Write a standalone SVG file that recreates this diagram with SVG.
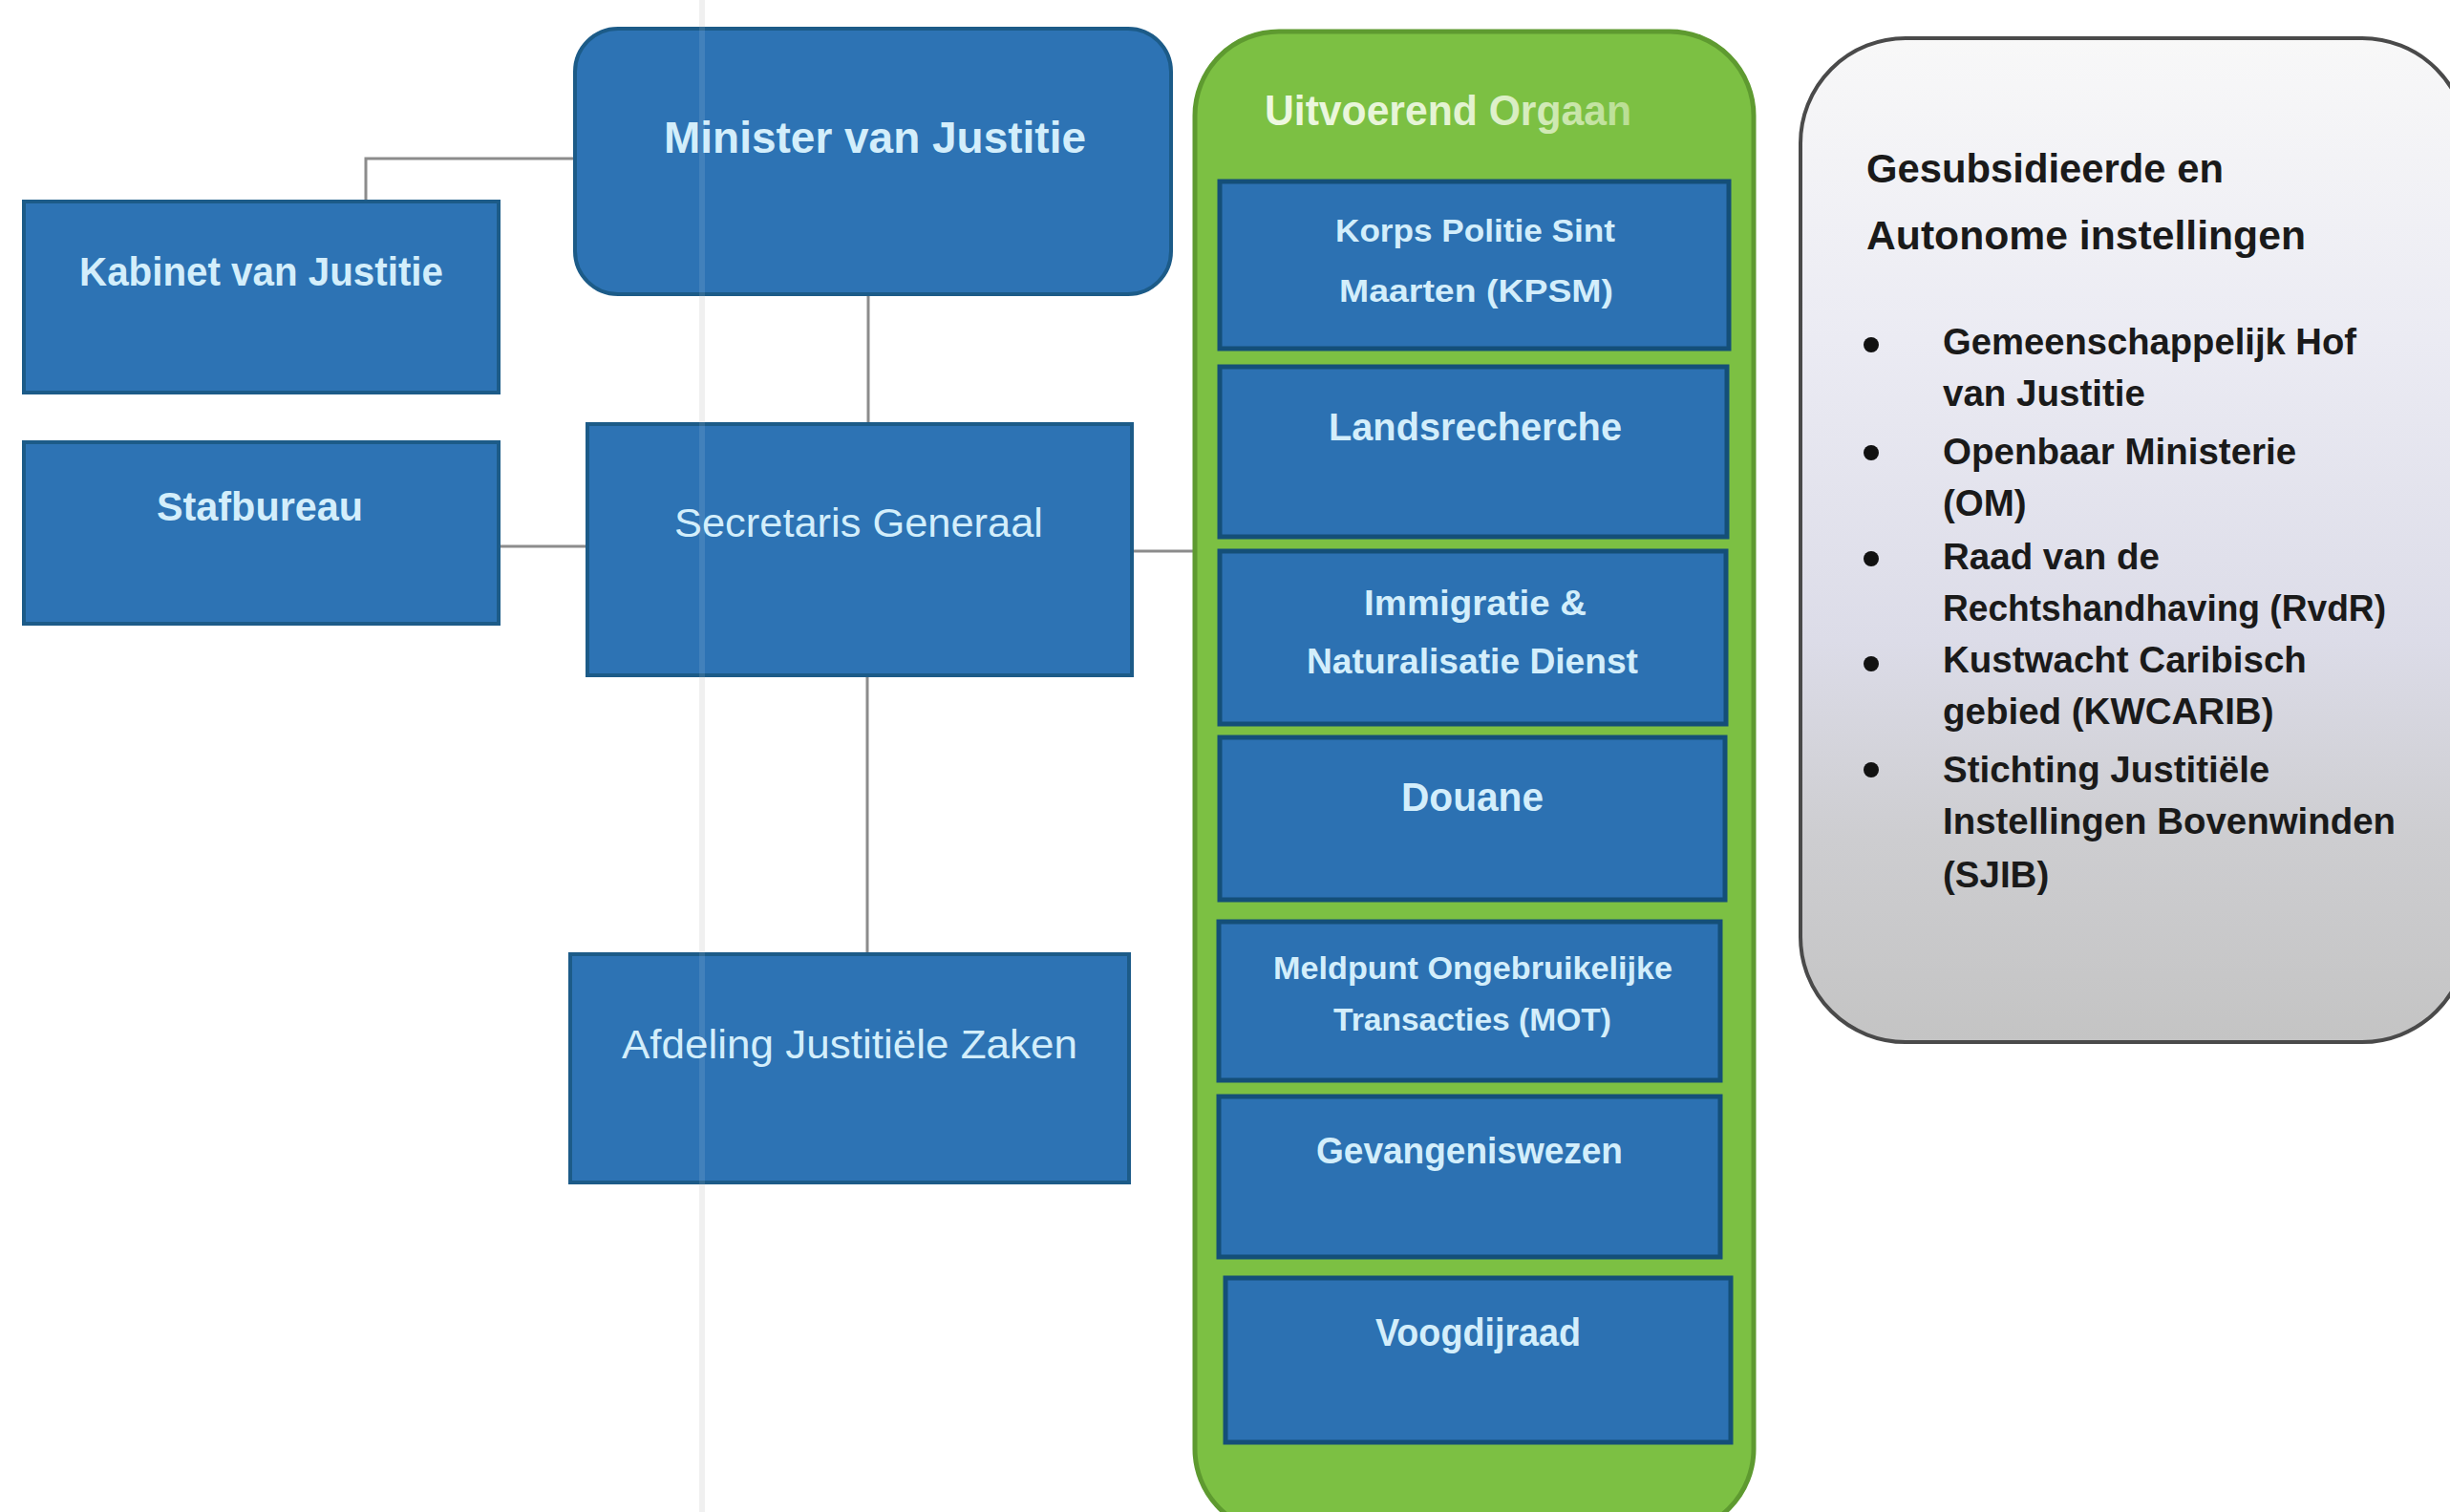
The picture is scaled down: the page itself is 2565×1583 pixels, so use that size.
<svg xmlns="http://www.w3.org/2000/svg" width="2565" height="1583" viewBox="0 0 2565 1583">
<defs>
<linearGradient id="grayFill" x1="0" y1="0" x2="0" y2="1">
<stop offset="0" stop-color="#f8f8f8"/>
<stop offset="0.3" stop-color="#ebebf3"/>
<stop offset="0.6" stop-color="#dcdce8"/>
<stop offset="0.8" stop-color="#cdcdd0"/>
<stop offset="1" stop-color="#c4c4c4"/>
</linearGradient>
<linearGradient id="titleFill" x1="0" y1="0" x2="1" y2="0">
<stop offset="0" stop-color="#eef8e2"/>
<stop offset="0.6" stop-color="#e2f2cf"/>
<stop offset="1" stop-color="#b9de92"/>
</linearGradient>
<style>
.box{fill:#2d73b4;stroke:#1c5b88;stroke-width:4}
.ibox{fill:#2c71b2;stroke:#144f78;stroke-width:5}
.bt{fill:#d3eefb;font-family:"Liberation Sans",Arial,sans-serif;font-weight:bold;text-anchor:start}
.btr{fill:#d3eefb;font-family:"Liberation Sans",Arial,sans-serif;font-weight:normal;text-anchor:start}
.gt{fill:#1a1a1a;font-family:"Liberation Sans",Arial,sans-serif;font-weight:bold}
.conn{stroke:#8c8c8c;stroke-width:3;fill:none}
</style>
</defs>
<rect x="0" y="0" width="2565" height="1583" fill="#ffffff"/>

<!-- faint scan fold line -->
<line x1="735" y1="0" x2="735" y2="1583" stroke="#efefef" stroke-width="6"/>

<g id="connectors">
<polyline class="conn" points="603,166 383,166 383,212"/>
<line class="conn" x1="909" y1="308" x2="909" y2="444"/>
<line class="conn" x1="522" y1="572" x2="615" y2="572"/>
<line class="conn" x1="908" y1="707" x2="908" y2="998"/>
<line class="conn" x1="1186" y1="577" x2="1253" y2="577"/>
</g>

<g id="minister">
<rect class="box" x="602" y="30" width="624" height="278" rx="45" ry="45"/>
<text class="bt" x="695" y="160" font-size="46" textLength="442" lengthAdjust="spacingAndGlyphs">Minister van Justitie</text>
</g>

<g id="kabinet">
<rect class="box" x="25" y="211" width="497" height="200"/>
<text class="bt" x="83" y="299" font-size="42" textLength="381" lengthAdjust="spacingAndGlyphs">Kabinet van Justitie</text>
</g>

<g id="stafbureau">
<rect class="box" x="25" y="463" width="497" height="190"/>
<text class="bt" x="164" y="545" font-size="42" textLength="216" lengthAdjust="spacingAndGlyphs">Stafbureau</text>
</g>

<g id="secretaris">
<rect class="box" x="615" y="444" width="570" height="263"/>
<text class="btr" x="706" y="562" font-size="43" textLength="386" lengthAdjust="spacingAndGlyphs">Secretaris Generaal</text>
</g>

<g id="afdeling">
<rect class="box" x="597" y="999" width="585" height="239"/>
<text class="btr" x="651" y="1108" font-size="43" textLength="477" lengthAdjust="spacingAndGlyphs">Afdeling Justitiële Zaken</text>
</g>

<!-- faint fold line over boxes -->
<line x1="735" y1="0" x2="735" y2="1583" stroke="#ffffff" stroke-opacity="0.1" stroke-width="6"/>

<g id="uitvoerend-orgaan">
<rect x="1251" y="33" width="585" height="1572" rx="88" ry="88" fill="#7cc043" stroke="#5e9a30" stroke-width="5"/>
<text x="1324" y="131" font-family="'Liberation Sans',Arial,sans-serif" font-weight="bold" font-size="44" fill="url(#titleFill)" textLength="384" lengthAdjust="spacingAndGlyphs">Uitvoerend Orgaan</text>
</g>

<g id="kpsm">
<rect class="ibox" x="1277" y="190" width="533" height="175"/>
<text class="bt" x="1398" y="253" font-size="34" textLength="293" lengthAdjust="spacingAndGlyphs">Korps Politie Sint</text>
<text class="bt" x="1402" y="316" font-size="34" textLength="287" lengthAdjust="spacingAndGlyphs">Maarten (KPSM)</text>
</g>

<g id="landsrecherche">
<rect class="ibox" x="1277" y="384" width="531" height="178"/>
<text class="bt" x="1391" y="461" font-size="40" textLength="307" lengthAdjust="spacingAndGlyphs">Landsrecherche</text>
</g>

<g id="ind">
<rect class="ibox" x="1277" y="577" width="530" height="181"/>
<text class="bt" x="1428" y="644" font-size="36" textLength="233" lengthAdjust="spacingAndGlyphs">Immigratie &amp;</text>
<text class="bt" x="1368" y="705" font-size="36" textLength="347" lengthAdjust="spacingAndGlyphs">Naturalisatie Dienst</text>
</g>

<g id="douane">
<rect class="ibox" x="1277" y="772" width="529" height="170"/>
<text class="bt" x="1467" y="849" font-size="42" textLength="149" lengthAdjust="spacingAndGlyphs">Douane</text>
</g>

<g id="mot">
<rect class="ibox" x="1276" y="965" width="525" height="166"/>
<text class="bt" x="1333" y="1025" font-size="34" textLength="418" lengthAdjust="spacingAndGlyphs">Meldpunt Ongebruikelijke</text>
<text class="bt" x="1396" y="1079" font-size="34" textLength="291" lengthAdjust="spacingAndGlyphs">Transacties (MOT)</text>
</g>

<g id="gevangeniswezen">
<rect class="ibox" x="1276" y="1148" width="525" height="168"/>
<text class="bt" x="1378" y="1218" font-size="38" textLength="321" lengthAdjust="spacingAndGlyphs">Gevangeniswezen</text>
</g>

<g id="voogdijraad">
<rect class="ibox" x="1283" y="1338" width="529" height="172"/>
<text class="bt" x="1440" y="1409" font-size="40" textLength="215" lengthAdjust="spacingAndGlyphs">Voogdijraad</text>
</g>

<g id="gesubsidieerde">
<rect x="1885" y="40" width="698" height="1051" rx="110" ry="110" fill="url(#grayFill)" stroke="#4a4a4a" stroke-width="4"/>
<text class="gt" x="1954" y="191" font-size="43" textLength="374" lengthAdjust="spacingAndGlyphs">Gesubsidieerde en</text>
<text class="gt" x="1954" y="261" font-size="43" textLength="460" lengthAdjust="spacingAndGlyphs">Autonome instellingen</text>
<g fill="#111111">
<circle cx="1959" cy="361" r="8"/>
<circle cx="1959" cy="474" r="8"/>
<circle cx="1959" cy="585" r="8"/>
<circle cx="1959" cy="695" r="8"/>
<circle cx="1959" cy="806" r="8"/>
</g>
<text class="gt" x="2034" y="371" font-size="38.5" textLength="433" lengthAdjust="spacingAndGlyphs">Gemeenschappelijk Hof</text>
<text class="gt" x="2034" y="425" font-size="38.5">van Justitie</text>
<text class="gt" x="2034" y="486" font-size="38.5">Openbaar Ministerie</text>
<text class="gt" x="2034" y="540" font-size="38.5">(OM)</text>
<text class="gt" x="2034" y="596" font-size="38.5">Raad van de</text>
<text class="gt" x="2034" y="650" font-size="38.5" textLength="464" lengthAdjust="spacingAndGlyphs">Rechtshandhaving (RvdR)</text>
<text class="gt" x="2034" y="704" font-size="38.5">Kustwacht Caribisch</text>
<text class="gt" x="2034" y="758" font-size="38.5">gebied (KWCARIB)</text>
<text class="gt" x="2034" y="819" font-size="38.5">Stichting Justitiële</text>
<text class="gt" x="2034" y="873" font-size="38.5" textLength="474" lengthAdjust="spacingAndGlyphs">Instellingen Bovenwinden</text>
<text class="gt" x="2034" y="929" font-size="38.5">(SJIB)</text>
</g>
</svg>
